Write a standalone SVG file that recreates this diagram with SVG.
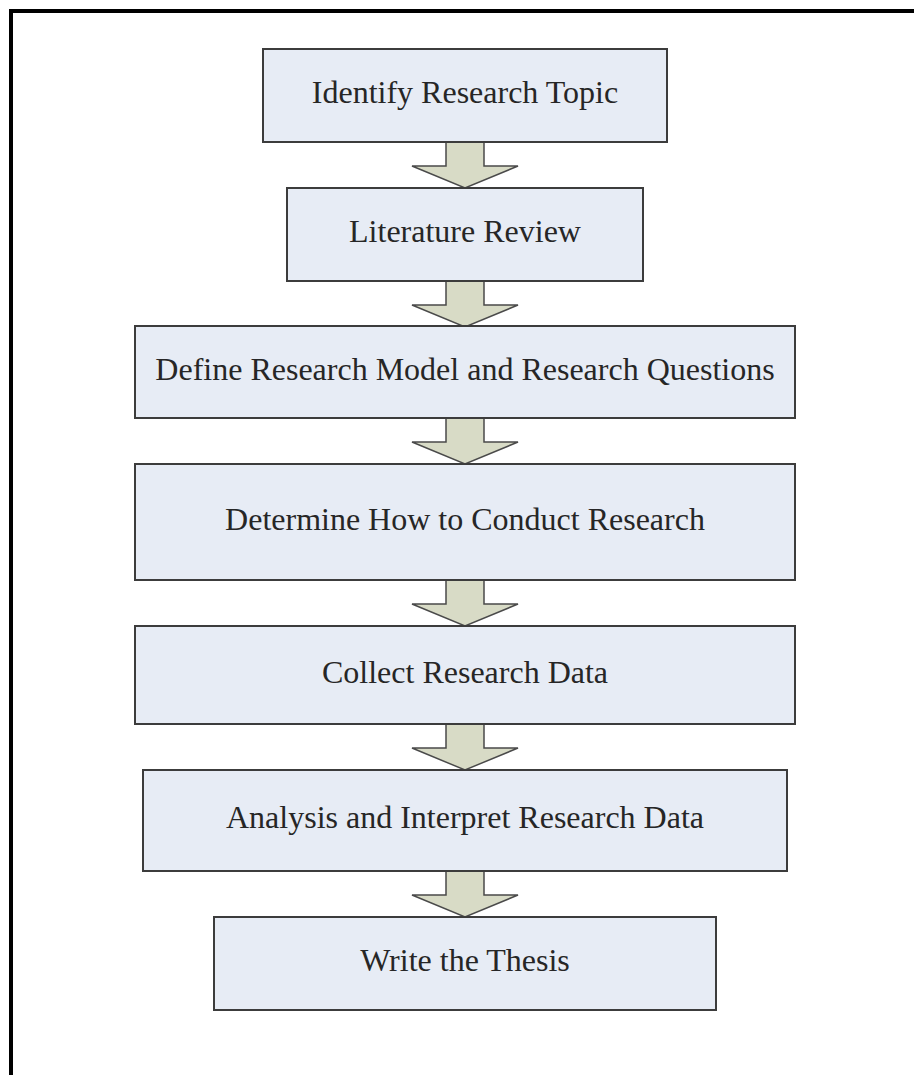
<svg xmlns="http://www.w3.org/2000/svg" width="914" height="1075" viewBox="0 0 914 1075">
<style>
.box{fill:#e7ecf5;stroke:#3c3c3c;stroke-width:2}
.lbl{font-family:"Liberation Serif","Times New Roman",serif;font-size:32px;fill:#262626;text-anchor:middle}
.arr{fill:#d8dbc6;stroke:#4a4a4a;stroke-width:1.5;stroke-linejoin:miter}
</style>
<defs>
<path id="arrow" class="arr" d="M-19,0 L19,0 L19,24 L53,24 L0,46 L-53,24 L-19,24 Z"/>
</defs>
<rect x="0" y="0" width="914" height="1075" fill="#ffffff"/>
<path d="M11,1075 L11,11 L914,11" fill="none" stroke="#000" stroke-width="4"/>
<g id="connectors">
<use href="#arrow" x="465" y="142"/>
<use href="#arrow" x="465" y="281"/>
<use href="#arrow" x="465" y="418"/>
<use href="#arrow" x="465" y="580"/>
<use href="#arrow" x="465" y="724"/>
<use href="#arrow" x="465" y="871"/>
</g>
<g id="n1"><rect class="box" x="263" y="49" width="404" height="93"/><text class="lbl" x="465" y="103">Identify Research Topic</text></g>
<g id="n2"><rect class="box" x="287" y="188" width="356" height="93"/><text class="lbl" x="465" y="242">Literature Review</text></g>
<g id="n3"><rect class="box" x="135" y="326" width="660" height="92"/><text class="lbl" x="465" y="380">Define Research Model and Research Questions</text></g>
<g id="n4"><rect class="box" x="135" y="464" width="660" height="116"/><text class="lbl" x="465" y="530">Determine How to Conduct Research</text></g>
<g id="n5"><rect class="box" x="135" y="626" width="660" height="98"/><text class="lbl" x="465" y="683">Collect Research Data</text></g>
<g id="n6"><rect class="box" x="143" y="770" width="644" height="101"/><text class="lbl" x="465" y="828">Analysis and Interpret Research Data</text></g>
<g id="n7"><rect class="box" x="214" y="917" width="502" height="93"/><text class="lbl" x="465" y="971">Write the Thesis</text></g>
</svg>
